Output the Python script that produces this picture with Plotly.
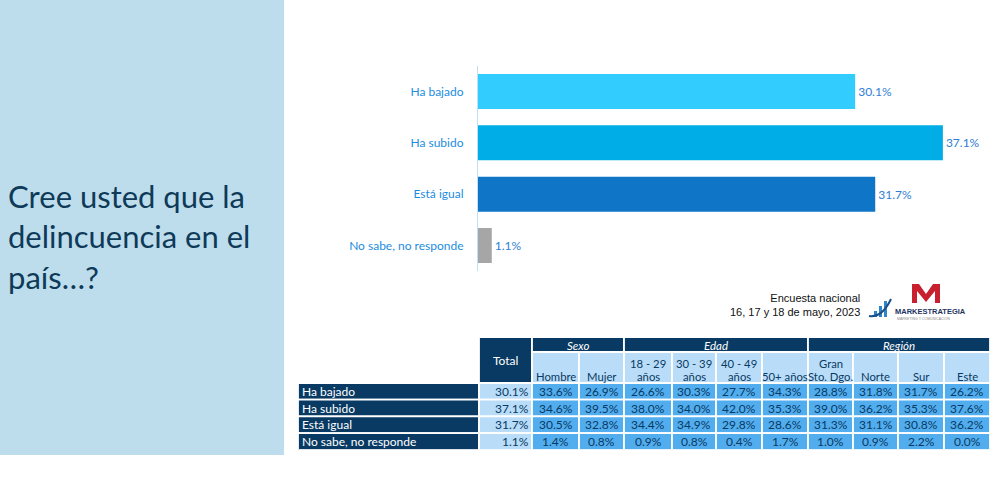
import plotly.graph_objects as go

W, H = 1008, 500

# --- chart data ---
options = ["Ha bajado", "Ha subido", "Está igual", "No sabe, no responde"]
shares = [30.1, 37.1, 31.7, 1.1]
bar_colors = ["#33CCFF", "#00ADE6", "#0F75C7", "#A6A6A6"]

# --- table data ---
col_labels = ["Total", "Hombre", "Mujer", "18 - 29<br>años", "30 - 39<br>años",
              "40 - 49<br>años", "50+ años", "Gran<br>Sto. Dgo.", "Norte", "Sur", "Este"]
group_labels = ["Sexo", "Edad", "Región"]
group_spans = [(1, 2), (3, 6), (7, 10)]   # column indexes (in col_labels) covered
total = [30.1, 37.1, 31.7, 1.1]
hombre = [33.6, 34.6, 30.5, 1.4]
mujer = [26.9, 39.5, 32.8, 0.8]
edad_18_29 = [26.6, 38.0, 34.4, 0.9]
edad_30_39 = [30.3, 34.0, 34.9, 0.8]
edad_40_49 = [27.7, 42.0, 29.8, 0.4]
edad_50 = [34.3, 35.3, 28.6, 1.7]
gran_sto_dgo = [28.8, 39.0, 31.3, 1.0]
norte = [31.8, 36.2, 31.1, 0.9]
sur = [31.7, 35.3, 30.8, 2.2]
este = [26.2, 37.6, 36.2, 0.0]

NAVY = "#083A63"
LIGHT = "#B9DDF9"
MID = "#52ADEF"
FONT = "Lato"


def px_x(v):
    return v / W


def px_y(v):
    return 1 - v / H


fig = go.Figure()

fig.add_trace(go.Bar(
    y=options, x=shares, orientation="h",
    marker=dict(color=bar_colors, line_width=0),
    texttemplate="%{x:.1f}%", textposition="outside",
    textfont=dict(family=FONT, size=12, color="#2F7ED6"),
    cliponaxis=False, hoverinfo="skip", showlegend=False,
))

# ---------- table, drawn on its own axes (x2 / y2 in pixel-like units) ----------
data_cols = [total, hombre, mujer, edad_18_29, edad_30_39, edad_40_49,
             edad_50, gran_sto_dgo, norte, sur, este]
label_w = 181
col_w = [53, 47, 45, 48, 44, 46, 46, 45, 45, 46, 46]
group_h, head_h, row_h = 15, 31, 16.7
edges = [label_w]
for w in col_w:
    edges.append(edges[-1] + w)
body_top = group_h + head_h
table_h = body_top + row_h * len(options)

shapes = []
annotations = []


def cell(x0, x1, y0, y1, color, lw=1.8):
    shapes.append(dict(type="rect", xref="x2", yref="y2", x0=x0, x1=x1, y0=y0, y1=y1,
                       fillcolor=color, line=dict(color="white", width=lw), layer="above"))


def label(text, x, y, anchor="center", color=NAVY, size=12):
    annotations.append(dict(text=text, xref="x2", yref="y2", x=x, y=y, xanchor=anchor,
                            yanchor="middle", showarrow=False,
                            font=dict(family=FONT, size=size, color=color)))


# Total header (spans group + header rows)
cell(edges[0], edges[1], 0, body_top, NAVY)
label(col_labels[0], (edges[0] + edges[1]) / 2, body_top / 2, color="white")
# group row
for name, (a, b) in zip(group_labels, group_spans):
    cell(edges[a], edges[b + 1], 0, group_h, NAVY)
    label(f"<i>{name}</i>", (edges[a] + edges[b + 1]) / 2, group_h / 2 + 1, color="white", size=11.5)
# sub headers
for j in range(1, len(col_labels)):
    cell(edges[j], edges[j + 1], group_h, body_top, LIGHT)
    lines = col_labels[j].split("<br>")
    for k, ln in enumerate(reversed(lines)):
        label(ln, (edges[j] + edges[j + 1]) / 2, body_top - 6.5 - 13.4 * k, size=11.3)
# body
for i, opt in enumerate(options):
    y0 = body_top + row_h * i
    y1 = y0 + row_h
    ym = (y0 + y1) / 2
    cell(0, edges[0], y0, y1, NAVY)
    label(opt, 1.5, ym, anchor="left", color="white")
    for j, col in enumerate(data_cols):
        cell(edges[j], edges[j + 1], y0, y1, LIGHT if j == 0 else MID)
        if j == 0:
            label(f"{col[i]:.1f}%", edges[j + 1] - 1, ym, anchor="right")
        else:
            label(f"{col[i]:.1f}%", (edges[j] + edges[j + 1]) / 2, ym)

# ---------- left panel + logo ----------
shapes.append(dict(type="rect", xref="paper", yref="paper", x0=0, x1=px_x(284),
                   y0=px_y(455), y1=1, fillcolor="#BDDDED", line_width=0, layer="below"))
m_pts = [(912, 303), (912, 284), (919, 284), (926, 294), (933, 284), (940, 284),
         (940, 303), (935, 303), (935, 291), (926, 302), (917, 291), (917, 303)]
shapes.append(dict(type="path", xref="paper", yref="paper", fillcolor="#C8202F", line_width=0,
                   path="M " + " L ".join(f"{px_x(a)} {px_y(b)}" for a, b in m_pts) + " Z"))
for x0, top in [(874, 311), (879, 306), (884, 301)]:
    shapes.append(dict(type="rect", xref="paper", yref="paper",
                       x0=px_x(x0), x1=px_x(x0 + 3), y0=px_y(317), y1=px_y(top),
                       fillcolor="#2E86C8", line_width=0))
shapes.append(dict(type="path", xref="paper", yref="paper",
                   path=f"M {px_x(869)} {px_y(316)} Q {px_x(882)} {px_y(318)} {px_x(891)} {px_y(299)}",
                   line=dict(color="#1B4F8A", width=2)))

annotations += [
    dict(text="Cree usted que la<br>delincuencia en el<br>país…?", xref="paper", yref="paper",
         x=px_x(6), y=px_y(236), xanchor="left", yanchor="middle", align="left",
         showarrow=False, font=dict(family=FONT, size=31, color="#0E3A58")),
    dict(text="Encuesta nacional<br>16, 17 y 18 de mayo, 2023", xref="paper", yref="paper",
         x=px_x(862), y=px_y(305), xanchor="right", yanchor="middle", align="right",
         showarrow=False, font=dict(family="Liberation Sans", size=11, color="#111111")),
    dict(text="<b>MARKESTRATEGIA</b>", xref="paper", yref="paper",
         x=px_x(893), y=px_y(311), xanchor="left", yanchor="middle",
         showarrow=False, font=dict(family="Liberation Sans Narrow, Liberation Sans", size=7.5, color="#1E3460")),
    dict(text="MARKETING Y COMUNICACION", xref="paper", yref="paper",
         x=px_x(895), y=px_y(318.5), xanchor="left", yanchor="middle",
         showarrow=False, font=dict(family="Liberation Sans", size=3.5, color="#8A8A8A")),
]

fig.update_layout(
    width=W, height=H, margin=dict(l=0, r=0, t=0, b=0),
    paper_bgcolor="white", plot_bgcolor="rgba(0,0,0,0)",
    bargap=0.318,
    xaxis=dict(domain=[px_x(478), px_x(990)], range=[0, 40.86], visible=False, fixedrange=True),
    yaxis=dict(domain=[px_y(271.2), px_y(65.8)], type="category", range=[3.5, -0.5],
               showline=True, linecolor="#BFE0F5", linewidth=1.2, showgrid=False,
               ticks="", ticklabelstandoff=11,
               tickfont=dict(family=FONT, size=12, color="#1C8DE0"), fixedrange=True),
    xaxis2=dict(domain=[px_x(298), px_x(990)], range=[0, edges[-1]], visible=False,
                anchor="y2", fixedrange=True),
    yaxis2=dict(domain=[px_y(337 + table_h), px_y(337)], range=[table_h, 0], visible=False,
                anchor="x2", fixedrange=True),
    shapes=shapes, annotations=annotations,
)

fig.write_html("out.html", config={"displayModeBar": False},
               post_script="document.body.style.margin='0px';")
